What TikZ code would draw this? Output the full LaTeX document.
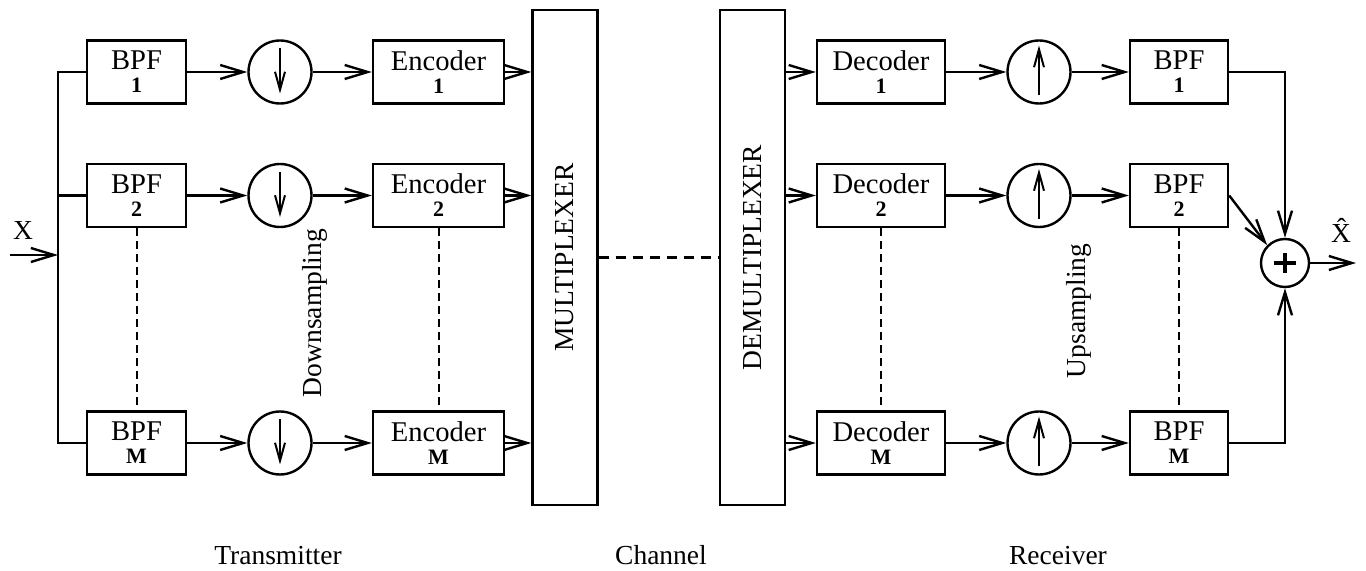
\documentclass[tikz,border=0pt]{standalone}
\usepackage{fontspec}
\setmainfont{Liberation Serif}
\usetikzlibrary{arrows.meta,calc}
\newcommand{\ix}[1]{{\bfseries\fontsize{11}{11.5}\selectfont #1}}

\begin{document}
\begin{tikzpicture}[x=0.5pt,y=-0.5pt,
  every node/.style={font=\fontsize{13.75}{11.5}\selectfont},
  wire/.style={line width=1.2pt},
  arr/.style={line width=1.2pt,-{Straight Barb[length=11.5pt,width=7pt]}},
  blk/.style={draw,line width=1.2pt,minimum height=31.5pt,inner sep=0pt,align=center,
    font=\fontsize{14.3}{11.5}\selectfont,execute at begin node={\rule{0pt}{12.5pt}}},
  tbpf/.style={blk,minimum width=49.5pt},
  enc/.style={blk,minimum width=65.5pt},
  dec/.style={blk,minimum width=64pt},
  rbpf/.style={blk,minimum width=49pt},
  mx/.style={draw,line width=1.2pt,minimum width=32.5pt,minimum height=247.5pt,inner sep=0pt},
  samp/.style={circle,draw,line width=1.2pt,minimum size=31.5pt,inner sep=0pt},
  downs/.style={samp,path picture={\draw[line width=1pt,-{Straight Barb[length=9pt,width=5pt]}]
      ([yshift=-4pt]path picture bounding box.north) -- ([yshift=5pt]path picture bounding box.south);}},
  ups/.style={samp,path picture={\draw[line width=1pt,-{Straight Barb[length=9pt,width=5pt]}]
      ([yshift=4pt]path picture bounding box.south) -- ([yshift=-2.5pt]path picture bounding box.north);}},
  adder/.style={circle,draw,line width=1.2pt,minimum size=24pt,inner sep=0pt,
    path picture={\draw[line width=1.6pt]
      ([xshift=-5.5pt]path picture bounding box.center) -- ([xshift=5.5pt]path picture bounding box.center)
      ([yshift=-5pt]path picture bounding box.center) -- ([yshift=5pt]path picture bounding box.center);}},
  vdash/.style={line width=1pt,dash pattern=on 4pt off 2.5pt},
  chdash/.style={line width=1.2pt,dash pattern=on 5pt off 3.5pt}
]
\useasboundingbox (0,0) rectangle (1366,571);

% transmitter: band-pass filters
\node[tbpf] (t1) at (136.5,72)  {BPF\\\ix{1}};
\node[tbpf] (t2) at (136.5,195.5) {BPF\\\ix{2}};
\node[tbpf] (tM) at (136.5,443) {BPF\\\ix{M}};
% downsamplers
\node[downs] (d1) at (280,72) {};
\node[downs] (d2) at (280,195.5) {};
\node[downs] (dM) at (280,443) {};
% encoders
\node[enc] (e1) at (438.5,72)  {Encoder\\\ix{1}};
\node[enc] (e2) at (438.5,195.5) {Encoder\\\ix{2}};
\node[enc] (eM) at (438.5,443) {Encoder\\\ix{M}};
% multiplexer / demultiplexer
\node[mx] (mux) at (565,257.5) {\rotatebox{90}{MULTIPLEXER}};
\node[mx] (demux) at (752.5,257.5) {\rotatebox{90}{DEMULTIPLEXER}};
% receiver: decoders
\node[dec] (c1) at (881,72)  {Decoder\\\ix{1}};
\node[dec] (c2) at (881,195.5) {Decoder\\\ix{2}};
\node[dec] (cM) at (881,443) {Decoder\\\ix{M}};
% upsamplers
\node[ups] (u1) at (1039,72) {};
\node[ups] (u2) at (1039,195.5) {};
\node[ups] (uM) at (1039,443) {};
% synthesis filters
\node[rbpf] (r1) at (1179,72)  {BPF\\\ix{1}};
\node[rbpf] (r2) at (1179,195.5) {BPF\\\ix{2}};
\node[rbpf] (rM) at (1179,443) {BPF\\\ix{M}};
% summing junction
\node[adder] (sum) at (1285,263) {};

% input and output
\coordinate (bus1) at (58,72);
\coordinate (busM) at (58,443);
\coordinate (xin) at (10,255);
\coordinate (xout) at (1356,263);
\node[anchor=base] (xlab) at (23,240) {X};
\node[anchor=base] (xhat) at (1341,243) {\^{X}};

% input bus
\draw[wire] (t1.west) -- (bus1) -- (busM) -- (tM.west);
\draw[wire] (t2.west) -- (t2.west -| bus1);
\draw[arr] (xin) -- (xin -| bus1);

% transmitter and receiver chains
\foreach \k in {1,2,M}{
  \draw[arr] (t\k.east) -- (d\k.west);
  \draw[arr] (d\k.east) -- (e\k.west);
  \draw[arr] (e\k.east) -- (e\k.east -| mux.west);
  \draw[arr] (c\k.west -| demux.east) -- (c\k.west);
  \draw[arr] (c\k.east) -- (u\k.west);
  \draw[arr] (u\k.east) -- (r\k.west);
}

% channel
\draw[chdash] (mux.east) -- (demux.west);

% omitted branches
\draw[vdash] (t2.south) -- (tM.north);
\draw[vdash] (e2.south) -- (eM.north);
\draw[vdash] (c2.south) -- (cM.north);
\draw[vdash] (r2.south) -- (rM.north);

% summation
\draw[arr] (r1.east) -| (sum.north);
\draw[arr] (r2.east) -- (sum.135);
\draw[arr] (rM.east) -| (sum.south);
\draw[arr] (sum.east) -- (xout);

% section labels
\node[rotate=90] (dsl) at (315,313) {Downsampling};
\node[rotate=90] (usl) at (1079,311) {Upsampling};
\node[anchor=base] (txl) at (278,565) {Transmitter};
\node[anchor=base] (chl) at (661,565) {Channel};
\node[anchor=base] (rxl) at (1058,565) {Receiver};
\end{tikzpicture}
\end{document}
